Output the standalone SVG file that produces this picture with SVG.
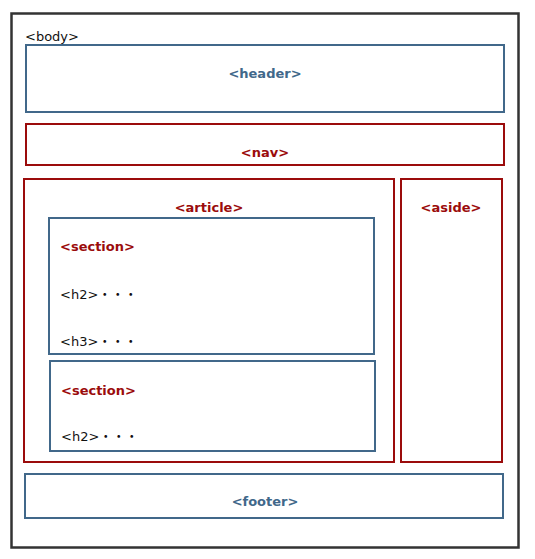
<svg xmlns="http://www.w3.org/2000/svg" width="535" height="559" viewBox="0 0 535 559">
<style>
.box{fill:none;stroke-width:2}
.blue{stroke:#41688a}
.red{stroke:#9b0c0c}
.t{font-family:"DejaVu Sans","Noto Sans CJK JP",sans-serif;font-size:13px}
.b{font-weight:bold}
.tb{fill:#41688a}
.tr{fill:#9b0c0c}
.tk{fill:#111}
</style>
<rect width="535" height="559" fill="#fff"/>
<g id="body">
<rect x="11.5" y="13.5" width="507" height="534" fill="none" stroke="#333" stroke-width="2.5"/>
<text class="t tk" x="25" y="41">&lt;body&gt;</text>
</g>
<g id="header">
<rect class="box blue" x="26" y="45" width="478" height="67"/>
<text class="t b tb" x="265" y="78" text-anchor="middle">&lt;header&gt;</text>
</g>
<g id="nav">
<rect class="box red" x="26" y="124" width="478" height="41"/>
<text class="t b tr" x="265" y="157" text-anchor="middle">&lt;nav&gt;</text>
</g>
<g id="article">
<rect class="box red" x="24" y="179" width="370" height="283"/>
<text class="t b tr" x="209" y="212" text-anchor="middle">&lt;article&gt;</text>
</g>
<g id="section1">
<rect class="box blue" x="49" y="218" width="325" height="136"/>
<text class="t b tr" x="60" y="251">&lt;section&gt;</text>
<text class="t tk" x="60" y="299">&lt;h2&gt;・・・</text>
<text class="t tk" x="60" y="346">&lt;h3&gt;・・・</text>
</g>
<g id="section2">
<rect class="box blue" x="50" y="361" width="325" height="90"/>
<text class="t b tr" x="61" y="395">&lt;section&gt;</text>
<text class="t tk" x="61" y="441">&lt;h2&gt;・・・</text>
</g>
<g id="aside">
<rect class="box red" x="401" y="179" width="101" height="283"/>
<text class="t b tr" x="451" y="212" text-anchor="middle">&lt;aside&gt;</text>
</g>
<g id="footer">
<rect class="box blue" x="25" y="474" width="478" height="44"/>
<text class="t b tb" x="265" y="506" text-anchor="middle">&lt;footer&gt;</text>
</g>
<g id="connectors"/>
</svg>
